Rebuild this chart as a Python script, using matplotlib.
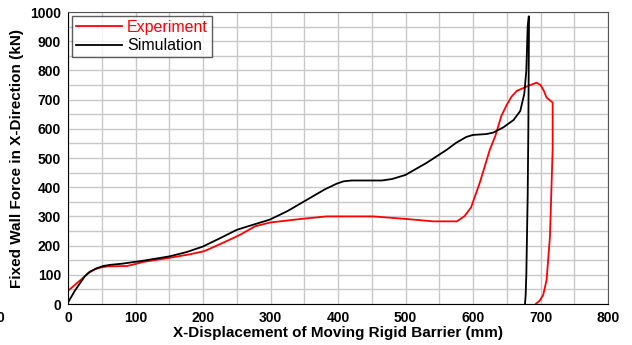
import matplotlib.pyplot as plt
import numpy as np

plt.rcParams['font.family'] = ['Liberation Sans', 'DejaVu Sans']

# Experiment (red) - displacement (mm), force (kN)
exp_x = [0, 10, 20, 30, 40, 50, 60, 87, 100, 111, 150, 180, 200, 205, 230,
         255, 277, 299, 344, 383, 452, 502, 541, 576, 587, 597, 610, 625,
         633, 642, 650, 657, 665, 680, 694, 700, 705, 709, 718, 718, 716,
         714, 709, 704, 699, 693]
exp_y = [45, 65, 85, 106, 119, 126, 129, 130, 137, 144, 158, 170, 180, 184, 210,
         237, 266, 279, 291, 300, 300, 291, 283, 283, 300, 330, 415, 529,
         575, 644, 682, 710, 730, 745, 758, 750, 730, 707, 690, 530, 380,
         231, 82, 31, 12, 0]

# Simulation (black)
sim_x = [0, 5, 10, 18, 25, 32, 42, 52, 62, 80, 111, 150, 176, 200, 225, 250,
         275, 299, 325, 354, 380, 398, 408, 420, 465, 480, 500, 531, 561,
         575, 590, 600, 620, 630, 645, 660, 670, 676, 679, 681, 682.5, 683,
         682, 681, 679, 678, 677]
sim_y = [5, 25, 45, 72, 95, 110, 122, 130, 134, 138, 148, 163, 178, 197, 225, 254,
         272, 289, 318, 357, 392, 412, 420, 423, 423, 428, 442, 483, 528,
         552, 572, 579, 582, 587, 605, 630, 661, 720, 800, 950, 985, 985,
         600, 370, 100, 30, 0]

fig = plt.figure(figsize=(6.32, 3.45), dpi=100)
ax = fig.add_axes([68/632, 1 - 304/345, 540/632, 292/345])

ax.plot(exp_x, exp_y, color='#ff0000', lw=1.3, label='Experiment')
ax.plot(sim_x, sim_y, color='black', lw=1.3, label='Simulation')

ax.set_xlim(0, 800)
ax.set_ylim(0, 1000)
ax.set_xticks(np.arange(0, 801, 100))
ax.set_yticks(np.arange(0, 1001, 100))
ax.set_xticks(np.arange(0, 801, 50), minor=True)
ax.set_yticks(np.arange(0, 1001, 50), minor=True)
ax.grid(True, which='both', color='#c8c8c8', lw=1.0)
ax.set_axisbelow(True)
ax.tick_params(which='both', length=0, labelsize=10, pad=5)
for lab in ax.get_xticklabels() + ax.get_yticklabels():
    lab.set_fontweight('bold')

for s in ['left', 'bottom']:
    ax.spines[s].set_color('black')
for s in ['top', 'right']:
    ax.spines[s].set_color('#555555')

ax.set_xlabel('X-Displacement of Moving Rigid Barrier (mm)', fontsize=11,
              fontweight='bold', labelpad=1)
ax.set_ylabel('Fixed Wall Force in X-Direction (kN)', fontsize=11,
              fontweight='bold', labelpad=4)

leg = ax.legend(loc='upper left', fontsize=11.5, frameon=True, fancybox=False,
                edgecolor='#333333', borderaxespad=0.25, handlelength=2.9,
                handletextpad=0.3, borderpad=0.25, labelspacing=0.2)
leg.get_frame().set_linewidth(1.0)
leg.get_texts()[0].set_color('#ff0000')

# clipped stray label at far left
fig.text(-0.006, 1 - 318/345, '0', fontsize=10, fontweight='bold',
         ha='left', va='center')

fig.savefig('out.png', dpi=100)
